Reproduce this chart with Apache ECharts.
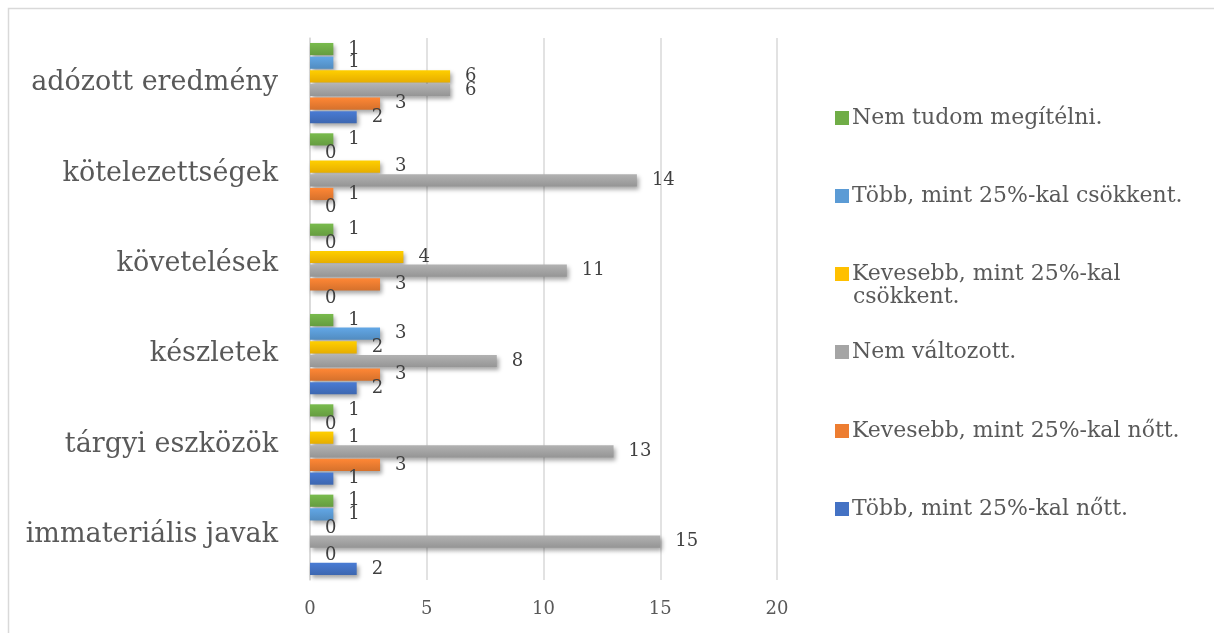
<!DOCTYPE html>
<html>
<head>
<meta charset="utf-8">
<script src="https://cdn.jsdelivr.net/npm/echarts@6/dist/echarts.min.js"></script>
<style>
html,body{margin:0;padding:0;background:#fff;}
#c{width:1214px;height:633px;}
</style>
</head>
<body>
<div id="c"></div>
<script>
const categories = ['immateriális javak', 'tárgyi eszközök', 'készletek', 'követelések', 'kötelezettségek', 'adózott eredmény'];
const seriesNames = ['Több, mint 25%-kal nőtt.', 'Kevesebb, mint 25%-kal nőtt.', 'Nem változott.', 'Kevesebb, mint 25%-kal csökkent.', 'Több, mint 25%-kal csökkent.', 'Nem tudom megítélni.'];
const tobbNott = [2, 1, 2, 0, 0, 2];
const kevesebbNott = [0, 3, 3, 3, 1, 3];
const nemValtozott = [15, 13, 8, 11, 14, 6];
const kevesebbCsokkent = [0, 1, 2, 4, 3, 6];
const tobbCsokkent = [1, 0, 3, 0, 0, 1];
const nemTudom = [1, 1, 1, 1, 1, 1];
const xTicks = [0, 5, 10, 15, 20];
const colors = ['#4472C4', '#ED7D31', '#A5A5A5', '#FFC000', '#5B9BD5', '#70AD47'];
const values = [tobbNott, kevesebbNott, nemValtozott, kevesebbCsokkent, tobbCsokkent, nemTudom];

const FONT = 'DejaVu Serif';
const TXT = '#595959';

function shade(hex, f) {
  const n = parseInt(hex.slice(1), 16);
  let r = (n >> 16) & 255, g = (n >> 8) & 255, b = n & 255;
  r = Math.round(r * f); g = Math.round(g * f); b = Math.round(b * f);
  return 'rgb(' + Math.min(255, r) + ',' + Math.min(255, g) + ',' + Math.min(255, b) + ')';
}

// ECharts places the first series at the top of each band, so add them in reverse
const drawOrder = [5, 4, 3, 2, 1, 0];
const series = drawOrder.map((i) => ({
  name: seriesNames[i],
  type: 'bar',
  data: values[i],
  barGap: '12%',
  barCategoryGap: '11%',
  itemStyle: {
    color: new echarts.graphic.LinearGradient(0, 0, 0, 1, [
      { offset: 0, color: shade(colors[i], 1.08) },
      { offset: 1, color: shade(colors[i], 0.9) }
    ]),
    shadowColor: 'rgba(0,0,0,0.35)',
    shadowBlur: 4,
    shadowOffsetX: 2,
    shadowOffsetY: 3
  },
  label: {
    show: true,
    position: 'right',
    distance: 15,
    color: '#404040',
    fontFamily: FONT,
    fontSize: 18
  }
}));

// legend items in reference order (top to bottom) and their vertical centres
const legendOrder = [5, 4, 3, 2, 1, 0];
const legendCenters = [113, 191, 269, 347, 426, 504];
const legendFirstLine = { 3: 'Kevesebb, mint 25%-kal' };
const legendSecondLine = 'csökkent.';
const LH = 30;
const legends = legendOrder.map((si, k) => ({
  data: [{ name: seriesNames[si], itemStyle: { color: colors[si] } }],
  left: 830,
  top: legendCenters[k] - LH / 2,
  orient: 'vertical',
  itemWidth: 14,
  itemHeight: 14,
  itemGap: 0,
  icon: 'rect',
  selectedMode: false,
  formatter: function (n) { return legendFirstLine[si] || n; },
  textStyle: { color: TXT, fontFamily: FONT, fontSize: 22, lineHeight: LH, padding: [0, 0, 0, -2] }
}));

const chart = echarts.init(document.getElementById('c'), null, { renderer: 'canvas' });
chart.setOption({
  animation: false,
  backgroundColor: '#fff',
  color: drawOrder.map(i => colors[i]),
  graphic: [{
    type: 'rect',
    shape: { x: 8.5, y: 8.5, width: 1400, height: 800 },
    style: { fill: 'none', stroke: '#d9d9d9', lineWidth: 1.5 },
    silent: true
  }, {
    type: 'text',
    left: 853,
    top: 297 - LH / 2,
    style: { text: legendSecondLine, fill: TXT, font: '22px "DejaVu Serif"', lineHeight: LH, verticalAlign: 'top' },
    silent: true
  }],
  legend: legends,
  grid: { left: 310, right: 437, top: 38, bottom: 53 },
  xAxis: {
    type: 'value',
    min: 0,
    max: 20,
    interval: 5,
    axisLine: { show: false },
    axisTick: { show: false },
    splitLine: { lineStyle: { color: '#d9d9d9', width: 1.5 } },
    axisLabel: {
      color: TXT, fontFamily: FONT, fontSize: 18, margin: 20,
      formatter: function (v) { return xTicks.indexOf(v) >= 0 ? String(v) : ''; }
    }
  },
  yAxis: {
    type: 'category',
    data: categories,
    axisLine: { show: true, lineStyle: { color: '#d9d9d9', width: 1.5 } },
    axisTick: { show: false },
    axisLabel: { color: TXT, fontFamily: FONT, fontSize: 27, margin: 32 }
  },
  series: series
});
</script>
</body>
</html>
